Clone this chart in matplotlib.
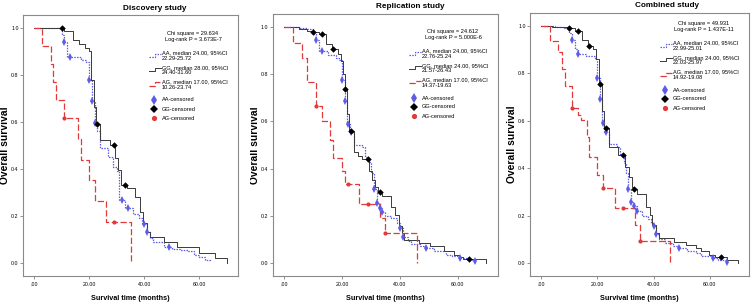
import numpy as np
import matplotlib

matplotlib.use("Agg")
import matplotlib.pyplot as plt
from matplotlib import font_manager
from matplotlib.lines import Line2D
from matplotlib.patches import Rectangle

W, H = 752, 306

# ---- text content -------------------------------------------------------
titles = ["Discovery study", "Replication study", "Combined study"]
chi_square = ["29.634", "24.612", "49.931"]
log_rank_p = ["3.673E-7", "5.000E-6", "1.437E-11"]
groups = ["AA", "GG", "AG"]
medians = [["24.00", "28.00", "17.00"],
           ["24.00", "24.00", "17.00"],
           ["24.00", "24.00", "17.00"]]
conf_int = [["22.29-25.72", "24.40-31.60", "10.26-23.74"],
            ["22.76-25.24", "21.57-26.43", "14.37-19.63"],
            ["22.99-25.01", "22.03-25.97", "14.92-19.08"]]
x_ticks = [0, 20, 40, 60]
x_tick_labels = [".00", "20.00", "40.00", "60.00"]
y_ticks = [0.0, 0.2, 0.4, 0.6, 0.8, 1.0]

# ---- Kaplan-Meier steps (months, survival) -------------------------------
disc_aa_time = [0, 10, 11, 12, 17, 19, 20, 21, 22, 22.7, 24, 27, 28.5, 30, 31,
                33, 36, 38, 39, 41, 42, 43, 47, 50, 53, 56, 58, 60, 62, 64]
disc_aa_surv = [1.0, 0.97, 0.94, 0.875, 0.865, 0.855, 0.78, 0.69, 0.595, 0.56,
                0.49, 0.45, 0.41, 0.39, 0.27, 0.235, 0.21, 0.19, 0.165, 0.13,
                0.105, 0.09, 0.07, 0.06, 0.055, 0.05, 0.035, 0.025, 0.012, 0.007]
disc_aa_cens = [11, 13, 20, 21, 22, 32, 34, 40, 41, 49]

disc_gg_time = [0, 11, 14, 16.3, 18.6, 20, 20.8, 21.7, 22.5, 24, 27.5, 29.5,
                30.4, 31.6, 33.7, 36.7, 38.5, 39.7, 40.9, 42, 47, 51.8, 59.7,
                65.8, 70]
disc_gg_surv = [1.0, 0.989, 0.95, 0.93, 0.916, 0.9, 0.78, 0.665, 0.59, 0.523,
                0.50, 0.445, 0.396, 0.33, 0.318, 0.282, 0.218, 0.17, 0.133,
                0.112, 0.09, 0.07, 0.042, 0.021, 0.0]
disc_gg_cens = [10, 23, 29, 33]

disc_ag_time = [0, 3, 6, 7, 8, 11, 16, 17, 20, 22, 26, 35]
disc_ag_surv = [1.0, 0.923, 0.846, 0.769, 0.692, 0.615, 0.527, 0.44, 0.352,
                0.264, 0.176, 0.0]
disc_ag_cens = [11, 29]

repl_aa_time = [0, 5, 8, 10, 11, 12, 15, 18, 19, 20, 21, 21.7, 22.7, 24, 27,
                28, 29, 30, 31, 32, 33, 33.8, 35, 37, 39, 39.9, 41, 43, 44, 47,
                49, 52, 56, 58, 61, 64, 66]
repl_aa_surv = [1.0, 0.995, 0.99, 0.97, 0.944, 0.9, 0.88, 0.87, 0.86, 0.775,
                0.687, 0.59, 0.556, 0.5, 0.49, 0.45, 0.43, 0.38, 0.313, 0.254,
                0.235, 0.218, 0.2, 0.19, 0.17, 0.148, 0.11, 0.095, 0.08, 0.07,
                0.063, 0.05, 0.035, 0.03, 0.021, 0.012, 0.007]
repl_aa_cens = [11, 13, 20, 21, 22, 23, 31, 32, 33, 34, 40, 41, 49, 61, 66]

repl_gg_time = [0, 5, 8, 9.5, 12, 14.5, 16.5, 18.5, 19.5, 20.3, 21, 21.8, 22.5,
                24, 25.5, 27, 29.5, 30.5, 31.5, 32.5, 34, 36.9, 38.3, 39.6,
                40.7, 41.6, 46.5, 50.5, 55.4, 58.9, 60.6, 62, 70]
repl_gg_surv = [1.0, 0.993, 0.985, 0.978, 0.969, 0.93, 0.905, 0.885, 0.855,
                0.80, 0.739, 0.63, 0.56, 0.47, 0.455, 0.44, 0.39, 0.35, 0.32,
                0.302, 0.285, 0.239, 0.204, 0.155, 0.127, 0.098, 0.085, 0.07,
                0.049, 0.035, 0.025, 0.017, 0.0]
repl_gg_cens = [10, 13, 17, 21, 23, 29, 33, 64]

repl_ag_time = [0, 3, 6, 8, 11, 13, 16, 17, 20, 21, 26, 33, 35, 46]
repl_ag_surv = [1.0, 0.933, 0.867, 0.767, 0.667, 0.6, 0.52, 0.444, 0.39,
                0.333, 0.25, 0.19, 0.127, 0.0]
repl_ag_cens = [11, 22, 29, 35]

comb_aa_time = [0, 5, 8, 10, 11, 12, 13, 16, 19, 20, 21, 21.7, 22.5, 24, 27,
                28, 29.5, 30.3, 31, 32, 33, 34, 36, 38, 39, 40, 41, 42, 44, 47,
                49, 52, 55, 57, 61, 63, 66]
comb_aa_surv = [1.0, 0.995, 0.99, 0.97, 0.94, 0.9, 0.88, 0.873, 0.86, 0.78,
                0.69, 0.59, 0.55, 0.5, 0.49, 0.46, 0.42, 0.38, 0.31, 0.255,
                0.24, 0.22, 0.2, 0.185, 0.17, 0.155, 0.12, 0.1, 0.085, 0.072,
                0.065, 0.05, 0.04, 0.03, 0.02, 0.012, 0.006]
comb_aa_cens = [11, 13, 20, 21, 22, 23, 31, 32, 33, 34, 40, 41, 49, 61, 66]

comb_gg_time = [0, 4, 9, 12, 14.5, 16.5, 18.5, 19.5, 20.5, 21.8, 22.5, 24,
                27.5, 30, 31.2, 32.2, 32.8, 34, 37.4, 38.6, 39.6, 40.8, 42,
                47.3, 51.5, 55, 57, 59.7, 62, 66.3, 70]
comb_gg_surv = [1.0, 0.995, 0.99, 0.976, 0.94, 0.916, 0.9, 0.86, 0.755, 0.64,
                0.571, 0.489, 0.454, 0.405, 0.363, 0.321, 0.31, 0.29, 0.237,
                0.203, 0.161, 0.126, 0.105, 0.09, 0.077, 0.063, 0.049, 0.035,
                0.024, 0.014, 0.0]
comb_gg_cens = [10, 13, 17, 21, 23, 29, 33, 64]

comb_ag_time = [0, 3, 6, 7.4, 8.3, 11, 13, 14, 16.2, 17, 19.8, 22, 26.2, 33.5,
                35, 46]
comb_ag_surv = [1.0, 0.934, 0.888, 0.818, 0.748, 0.655, 0.622, 0.601, 0.531,
                0.447, 0.37, 0.315, 0.231, 0.16, 0.091, 0.0]
comb_ag_cens = [11, 22, 29, 35]

panels = [
    [(disc_aa_time, disc_aa_surv, disc_aa_cens),
     (disc_gg_time, disc_gg_surv, disc_gg_cens),
     (disc_ag_time, disc_ag_surv, disc_ag_cens)],
    [(repl_aa_time, repl_aa_surv, repl_aa_cens),
     (repl_gg_time, repl_gg_surv, repl_gg_cens),
     (repl_ag_time, repl_ag_surv, repl_ag_cens)],
    [(comb_aa_time, comb_aa_surv, comb_aa_cens),
     (comb_gg_time, comb_gg_surv, comb_gg_cens),
     (comb_ag_time, comb_ag_surv, comb_ag_cens)],
]

# ---- layout (pixels from top-left of the 752x306 canvas) -----------------
axes_px = [(23, 15, 238, 276), (272.7, 14, 498, 276), (530, 12.7, 749, 276)]
title_px = [(155, 8), (410, 7), (667, 5.5)]
legend_top_px = [33, 31, 23]

BLUE, RED, GREY = "#5c5ce6", "#e23a3a", "#3a3a3a"
line_style = {
    "AA": dict(color=BLUE, ls=(0, (1.2, 1.0)), lw=0.9),
    "GG": dict(color=GREY, ls="-", lw=0.7),
    "AG": dict(color=RED, ls=(0, (5, 2)), lw=0.9),
}
mark_style = {
    "AA": dict(marker="d", color=BLUE, ms=4.0, mew=0),
    "GG": dict(marker="D", color="black", ms=3.3, mew=0),
    "AG": dict(marker="o", color=RED, ms=3.0, mew=0),
}

available = {f.name for f in font_manager.fontManager.ttflist}
if "Liberation Sans Narrow" in available:
    NARROW, k = "Liberation Sans Narrow", 1.0
else:
    NARROW, k = "Liberation Sans", 0.82
plt.rcParams["font.family"] = [NARROW, "DejaVu Sans"]
TICK_FS, LEG_FS, TITLE_FS, XLAB_FS = 4.6 * k, 5.0 * k, 7.2 * k, 6.4 * k


def fig_xy(x, y):
    return x / W, 1 - y / H


def censor_levels(times, surv, cens):
    idx = np.searchsorted(times, cens, side="right") - 1
    return np.asarray(surv)[idx]


def draw_legend(fig, right, y0, p):
    cx = right - 45
    fig.text(*fig_xy(cx, y0), f"Chi square = {chi_square[p]}",
             ha="center", va="center", fontsize=LEG_FS)
    fig.text(*fig_xy(cx, y0 + 6.5), f"Log-rank P = {log_rank_p[p]}",
             ha="center", va="center", fontsize=LEG_FS)
    tx = right - 76
    for g, dy in enumerate([20, 34.5, 49]):
        y = y0 + dy
        name = groups[g]
        fig.text(*fig_xy(tx, y), f"{name}, median {medians[p][g]}, 95%CI",
                 ha="left", va="center", fontsize=LEG_FS)
        fig.text(*fig_xy(tx, y + 5.3), conf_int[p][g],
                 ha="left", va="center", fontsize=LEG_FS)
        sx = tx + np.array([-13, -7, -7, -1])
        sy = y + np.array([3.5, 3.5, 0.5, 0.5])
        fig.add_artist(Line2D(sx / W, 1 - sy / H, transform=fig.transFigure,
                              **line_style[name]))
    for g, dy in enumerate([67, 76, 85]):
        y = y0 + dy
        name = groups[g]
        big = dict(mark_style[name])
        big["ms"] = big["ms"] * 1.25
        fig.add_artist(Line2D([(tx - 8) / W], [1 - y / H], ls="none",
                              transform=fig.transFigure, **big))
        fig.text(*fig_xy(tx, y), f"{name}-censored",
                 ha="left", va="center", fontsize=LEG_FS)


fig = plt.figure(figsize=(W / 100, H / 100), dpi=100)

for p, curves in enumerate(panels):
    l, t, r, b = axes_px[p]
    ax = fig.add_axes([l / W, 1 - b / H, (r - l) / W, (b - t) / H])
    for name, (times, surv, cens) in zip(groups, curves):
        ax.step(times, surv, where="post", **line_style[name], zorder=2)
        ax.plot(cens, censor_levels(times, surv, cens), ls="none",
                zorder=3, **mark_style[name])

    ax.set_xlim(-4, 74)
    ax.set_ylim(-0.055, 1.055)
    ax.set_xticks(x_ticks)
    ax.set_xticklabels(x_tick_labels)
    ax.set_yticks(y_ticks)
    ax.set_yticklabels([f"{v:.1f}" for v in y_ticks])
    ax.tick_params(axis="both", direction="out", length=2.2, width=0.5,
                   color="#666666", labelsize=TICK_FS)
    ax.tick_params(axis="x", pad=2)
    ax.tick_params(axis="y", pad=1)
    for sp in ax.spines.values():
        sp.set_color("#8a8a8a")
        sp.set_linewidth(0.8)

    ax.set_xlabel("Survival time (months)", fontsize=XLAB_FS,
                  fontweight="bold", va="center")
    ax.xaxis.set_label_coords(0.5, -(299 - b) / (b - t))
    ax.set_ylabel("Overall survival", fontsize=7.4, fontweight="bold",
                  va="center", family=["Liberation Sans", "DejaVu Sans"])
    ax.yaxis.set_label_coords(-18 / (r - l), 0.5)

    fig.text(*fig_xy(*title_px[p]), titles[p], ha="center", va="center",
             fontsize=TITLE_FS, fontweight="bold")
    draw_legend(fig, r, legend_top_px[p], p)

# the middle panel's y label is partly hidden behind the first panel's canvas
fig.add_artist(Rectangle((241 / W, 0.25), 9 / W, 0.6, transform=fig.transFigure,
                         facecolor="white", edgecolor="none", zorder=10))

fig.savefig("out.png", dpi=100)
